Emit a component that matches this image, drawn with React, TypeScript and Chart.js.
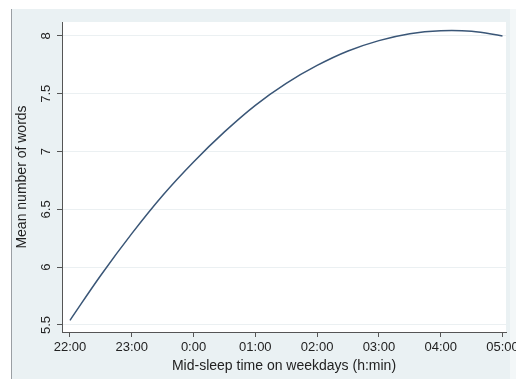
import React, { useEffect, useRef } from "react";
import { Chart, registerables } from "chart.js";

Chart.register(...registerables);

// Hours after 22:00
const hoursFrom22: number[] = [0, 0.5, 1, 1.5, 2, 2.5, 3, 3.5, 4, 4.5, 5, 5.5, 6, 6.5, 7];
const meanWords: number[] = [5.54, 5.93, 6.29, 6.62, 6.91, 7.17, 7.4, 7.59, 7.745, 7.87, 7.96, 8.02, 8.045, 8.04, 8.0];
const xTickValues: number[] = [0, 1, 2, 3, 4, 5, 6, 7];
const xTickLabels: string[] = ["22:00", "23:00", "0:00", "01:00", "02:00", "03:00", "04:00", "05:00"];
const yTickValues: number[] = [5.5, 6, 6.5, 7, 7.5, 8];
const yTickLabels: string[] = ["5.5", "6", "6.5", "7", "7.5", "8"];

const FONT = "'Liberation Sans', Arial, sans-serif";

const bgPlugin = {
  id: "stataBg",
  beforeDraw(chart: any) {
    const { ctx, width, height, chartArea } = chart;
    ctx.save();
    ctx.fillStyle = "#ffffff";
    ctx.fillRect(0, 0, width, height);
    ctx.fillStyle = "#F3F7F8";
    ctx.fillRect(510, 9, width - 510, height - 9);
    ctx.fillStyle = "#EAF1F3";
    ctx.fillRect(11, 9, 499, height - 9);
    ctx.strokeStyle = "#9a9fa3";
    ctx.lineWidth = 1;
    ctx.beginPath();
    ctx.moveTo(11.5, 9);
    ctx.lineTo(11.5, height);
    ctx.stroke();
    ctx.fillStyle = "#ffffff";
    ctx.fillRect(chartArea.left, chartArea.top, chartArea.right - chartArea.left, chartArea.bottom - chartArea.top);
    ctx.restore();
  },
};

export default function App() {
  const ref = useRef<HTMLCanvasElement | null>(null);
  useEffect(() => {
    if (!ref.current) return;
    const chart = new Chart(ref.current, {
      type: "line",
      data: {
        datasets: [
          {
            data: hoursFrom22.map((x, i) => ({ x, y: meanWords[i] })),
            borderColor: "#3A5677",
            borderWidth: 1.5,
            pointRadius: 0,
            tension: 0.4,
            fill: false,
          },
        ],
      },
      options: {
        animation: false,
        responsive: false,
        events: [],
        layout: { padding: { left: 0, top: 22, right: 10, bottom: 0 } },
        plugins: { legend: { display: false }, tooltip: { enabled: false } },
        scales: {
          x: {
            type: "linear",
            min: -0.129,
            max: 7.057,
            afterBuildTicks: (s: any) => {
              s.ticks = xTickValues.map((v) => ({ value: v }));
            },
            afterFit: (s: any) => {
              s.height = 47;
              s.paddingLeft = 0;
              s.paddingRight = 0;
            },
            grid: { drawOnChartArea: false, tickLength: 5, tickColor: "#555", color: "#555" },
            border: { display: true, color: "#555", width: 1 },
            ticks: {
              autoSkip: false,
              maxRotation: 0,
              minRotation: 0,
              padding: 3,
              color: "#222",
              font: { family: FONT, size: 13 },
              callback: (_v: any, i: number) => xTickLabels[i],
            },
            title: {
              display: true,
              text: "Mid-sleep time on weekdays (h:min)",
              color: "#222",
              font: { family: FONT, size: 14 },
              padding: { top: 0, bottom: 4 },
            },
          },
          y: {
            type: "linear",
            min: 5.439,
            max: 8.121,
            afterBuildTicks: (s: any) => {
              s.ticks = yTickValues.map((v) => ({ value: v }));
            },
            afterFit: (s: any) => {
              s.width = 62;
              s.paddingTop = 0;
              s.paddingBottom = 0;
            },
            grid: { drawOnChartArea: true, tickLength: 5, tickColor: "#555", color: "#EBF0F2", lineWidth: 1 },
            border: { display: true, color: "#555", width: 1 },
            ticks: {
              autoSkip: false,
              minRotation: 90,
              maxRotation: 90,
              crossAlign: "center",
              padding: 2,
              color: "#222",
              font: { family: FONT, size: 13 },
              callback: (_v: any, i: number) => yTickLabels[i],
            },
            title: {
              display: true,
              text: "Mean number of words",
              color: "#222",
              font: { family: FONT, size: 14 },
              padding: { top: 14, bottom: 0 },
            },
          },
        },
      },
      plugins: [bgPlugin],
    } as any);
    return () => chart.destroy();
  }, []);
  return (
    <div style={{ position: "fixed", left: 0, top: 0, width: 516, height: 379 }}>
      <canvas ref={ref} width={516} height={379} style={{ display: "block" }} />
    </div>
  );
}
